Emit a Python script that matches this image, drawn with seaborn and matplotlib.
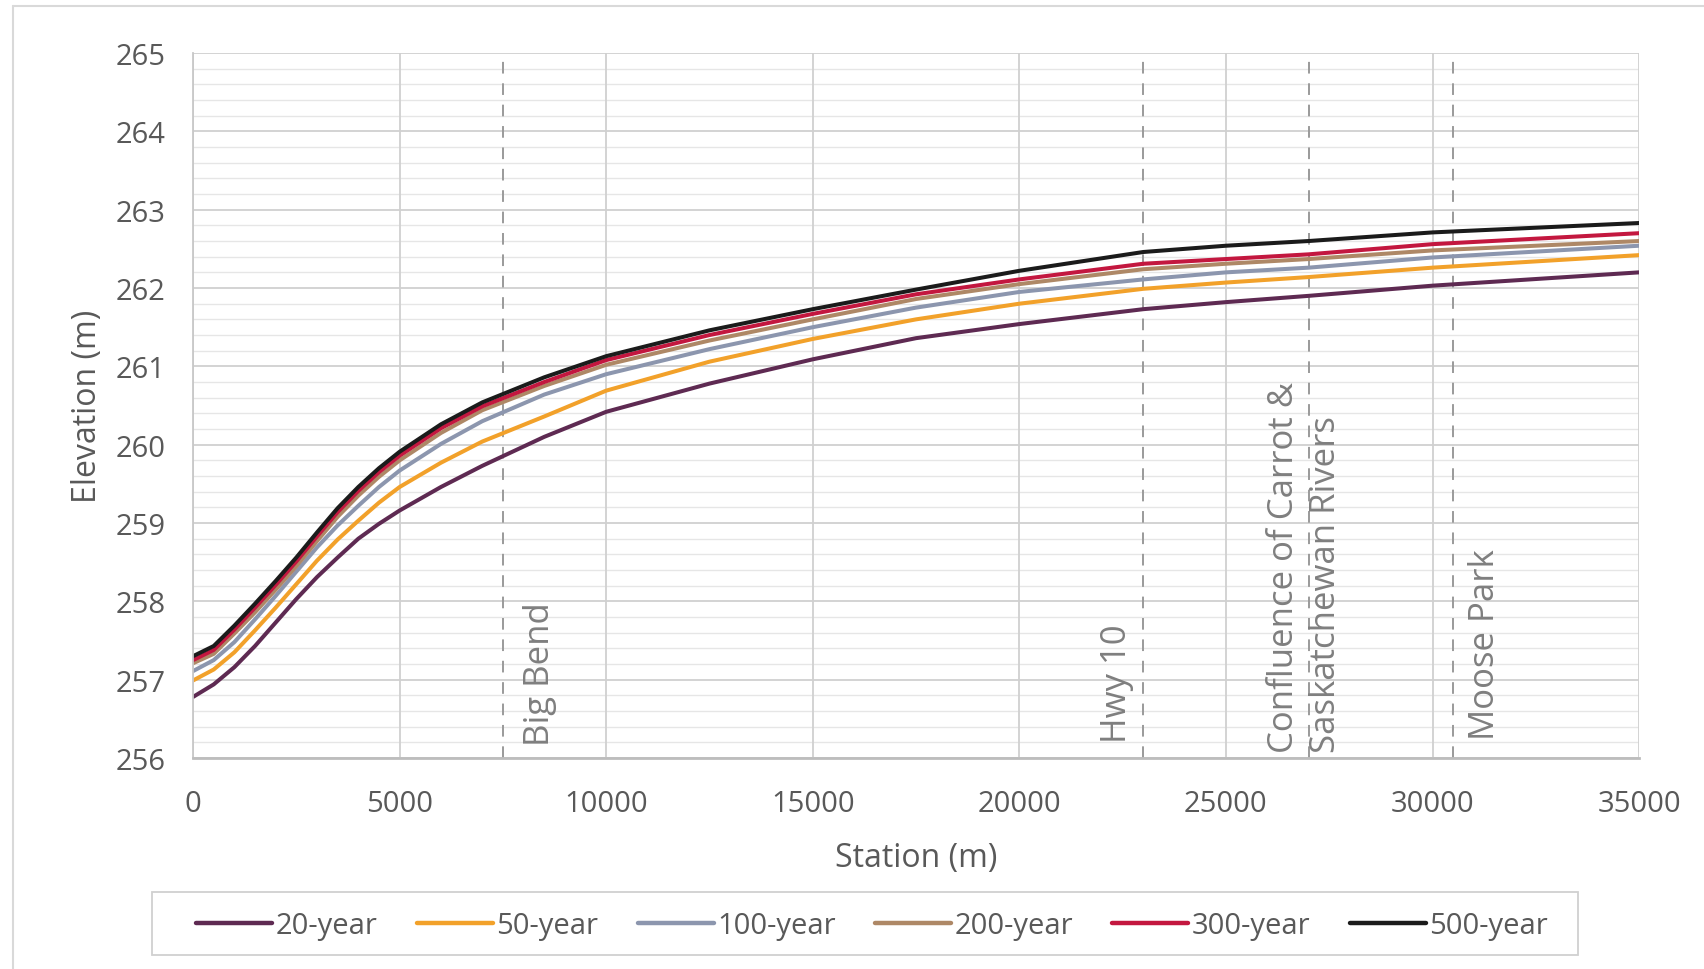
import matplotlib
matplotlib.use("Agg")
import matplotlib.pyplot as plt
import seaborn as sns
import pandas as pd
from matplotlib.lines import Line2D
from matplotlib.patches import Rectangle

# ---- data ----
stations = [0, 500, 1000, 1500, 2000, 2500, 3000, 3500, 4000, 4500, 5000, 6000, 7000,
            8500, 10000, 12500, 15000, 17500, 20000, 23000, 25000, 27000, 30000, 35000]
elev_20 = [256.78, 256.94, 257.16, 257.43, 257.73, 258.03, 258.31, 258.56, 258.80, 258.99,
           259.16, 259.46, 259.73, 260.10, 260.42, 260.78, 261.09, 261.36, 261.54, 261.73,
           261.82, 261.90, 262.03, 262.20]
elev_50 = [256.99, 257.13, 257.35, 257.63, 257.92, 258.22, 258.52, 258.79, 259.03, 259.26,
           259.46, 259.77, 260.04, 260.36, 260.69, 261.06, 261.35, 261.60, 261.80, 261.99,
           262.07, 262.14, 262.26, 262.42]
elev_100 = [257.11, 257.25, 257.48, 257.77, 258.07, 258.38, 258.69, 258.97, 259.22, 259.46,
            259.67, 260.01, 260.30, 260.64, 260.90, 261.22, 261.50, 261.75, 261.95, 262.11,
            262.20, 262.26, 262.39, 262.54]
elev_200 = [257.21, 257.33, 257.59, 257.86, 258.15, 258.45, 258.77, 259.08, 259.35, 259.59,
            259.80, 260.15, 260.44, 260.75, 261.02, 261.33, 261.60, 261.86, 262.05, 262.24,
            262.31, 262.37, 262.48, 262.60]
elev_300 = [257.25, 257.38, 257.64, 257.92, 258.21, 258.51, 258.83, 259.14, 259.41, 259.65,
            259.86, 260.21, 260.49, 260.80, 261.08, 261.40, 261.67, 261.92, 262.11, 262.31,
            262.37, 262.43, 262.56, 262.70]
elev_500 = [257.30, 257.43, 257.69, 257.97, 258.26, 258.56, 258.88, 259.19, 259.46, 259.70,
            259.91, 260.26, 260.54, 260.86, 261.13, 261.46, 261.73, 261.98, 262.22, 262.46,
            262.54, 262.60, 262.71, 262.83]

series_names = ["20-year", "50-year", "100-year", "200-year", "300-year", "500-year"]
series_values = [elev_20, elev_50, elev_100, elev_200, elev_300, elev_500]
series_colors = ["#5E2A52", "#F2A12A", "#8C96AE", "#AE8866", "#C3173F", "#1B1B1B"]

marker_stations = [7500, 23000, 27000, 30500]
marker_labels = ["Big Bend", "Hwy 10", "Confluence of Carrot &\nSaskatchewan Rivers", "Moose Park"]

x_ticks = [0, 5000, 10000, 15000, 20000, 25000, 30000, 35000]
y_ticks = [256, 257, 258, 259, 260, 261, 262, 263, 264, 265]

# ---- long-form table ----
rows = []
for name, vals in zip(series_names, series_values):
    for s, v in zip(stations, vals):
        rows.append({"Station": s, "Elevation": v, "Event": name})
df = pd.DataFrame(rows)

sns.set_theme(style="white")
plt.rcParams["font.family"] = ["Open Sans", "DejaVu Sans"]

fig = plt.figure(figsize=(17.04, 9.70), dpi=100)
ax = fig.add_axes([0.1133, 0.2175, 0.8486, 0.7268])

text_gray = "#595959"

# gridlines
for i in range(46):
    y = 256 + 0.2 * i
    if i % 5 != 0:
        ax.axhline(y, color="#E6E6E6", lw=1.0, zorder=0)
for y in y_ticks:
    ax.axhline(y, color="#D0D0D0", lw=1.3, zorder=0.5)
for x in x_ticks:
    ax.axvline(x, color="#D0D0D0", lw=1.3, zorder=0.5)
for x in marker_stations:
    ax.axvline(x, color="#9A9A9A", lw=1.4, ls=(0, (6, 5)), zorder=0.8)

sns.lineplot(data=df, x="Station", y="Elevation", hue="Event",
             hue_order=series_names, palette=series_colors,
             linewidth=2.9, ax=ax, legend=False, sort=True)

ax.set_xlim(0, 35000)
ax.set_ylim(256, 265)
ax.set_xticks(x_ticks)
ax.set_yticks(y_ticks)
ax.set_xticklabels([str(t) for t in x_ticks])
ax.set_yticklabels([str(t) for t in y_ticks])
ax.tick_params(axis="both", length=0, labelsize=21, colors=text_gray)
ax.tick_params(axis="y", pad=20)
ax.tick_params(axis="x", pad=22)
ax.set_xlabel("Station (m)", fontsize=23, color=text_gray, labelpad=17)
ax.set_ylabel("Elevation (m)", fontsize=23, color=text_gray, labelpad=8)

for side in ["top", "right"]:
    ax.spines[side].set_visible(False)
ax.spines["left"].set_color("#C8C8C8")
ax.spines["left"].set_linewidth(1.3)
ax.spines["bottom"].set_color("#BDBDBD")
ax.spines["bottom"].set_linewidth(2.0)

# marker labels
ann_color = "#7F7F7F"
offsets = [895, -632, -79, 763]
bottoms = [256.17, 256.2, 256.08, 256.24]
for s, lab, off, b in zip(marker_stations, marker_labels, offsets, bottoms):
    ax.text(s + off, b, lab, rotation=90, ha="center", va="bottom",
            fontsize=25, color=ann_color, linespacing=1.3, multialignment="left",
            zorder=3)

# legend (frame drawn separately to match the wide padded box)
fig.add_artist(Rectangle((152 / 1704, 1 - 956 / 970), (1578 - 152) / 1704, (956 - 893) / 970,
                         transform=fig.transFigure, facecolor="white",
                         edgecolor="#D0D0D0", lw=1.3, zorder=1))
handles = [Line2D([0], [0], color=c, lw=3.2) for c in series_colors]
leg = fig.legend(handles, series_names, loc="center", bbox_to_anchor=(0.5118, 0.0445),
                 ncol=6, frameon=False, fontsize=21, handlelength=2.6,
                 handletextpad=0.12, columnspacing=1.35, borderpad=0.5)
leg.set_zorder(2)
for t in leg.get_texts():
    t.set_color(text_gray)

# outer chart-area border
fig.add_artist(Line2D([13 / 1704, 1.0], [1 - 7 / 970, 1 - 7 / 970],
                      transform=fig.transFigure, color="#D9D9D9", lw=1.5))
fig.add_artist(Line2D([13 / 1704, 13 / 1704], [0.0, 1 - 7 / 970],
                      transform=fig.transFigure, color="#D9D9D9", lw=1.5))

fig.savefig("out.png", dpi=100, facecolor="white")
